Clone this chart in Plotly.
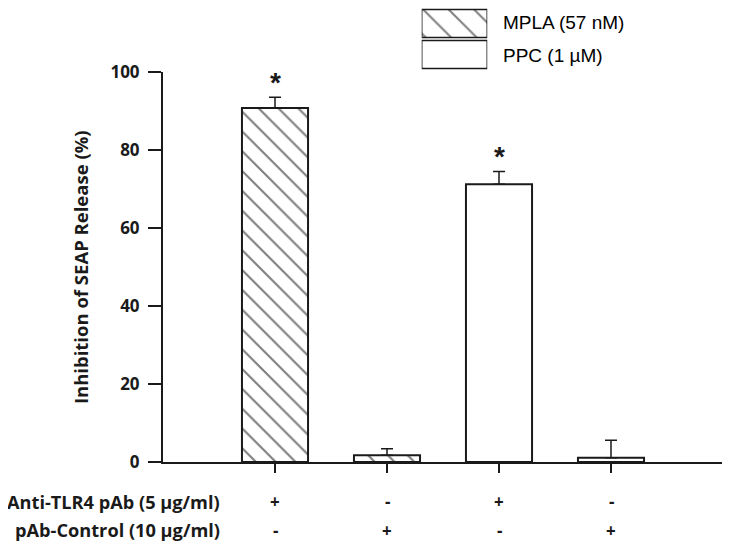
import plotly.graph_objects as go

# data
positions = [1, 2, 3, 4]
treatment = ["MPLA (57 nM)", "MPLA (57 nM)", "PPC (1 µM)", "PPC (1 µM)"]
inhibition = [90.8, 1.7, 71.2, 1.1]
sem = [2.7, 1.7, 3.3, 4.5]
significant = [True, False, True, False]
anti_tlr4 = ["+", "-", "+", "-"]
pab_control = ["-", "+", "-", "+"]
row_labels = ["Anti-TLR4 pAb (5 µg/ml)", "pAb-Control (10 µg/ml)"]
legend_names = ["MPLA (57 nM)", "PPC (1 µM)"]
y_ticks = [0, 20, 40, 60, 80, 100]

INK = "#1a1a1a"
BOLD = dict(family="Open Sans", size=17, color=INK, weight=700)
patterns = {"MPLA (57 nM)": "\\", "PPC (1 µM)": ""}

fig = go.Figure()

for name in legend_names:
    idx = [i for i, t in enumerate(treatment) if t == name]
    fig.add_trace(
        go.Bar(
            x=[positions[i] for i in idx],
            y=[inhibition[i] for i in idx],
            width=0.59,
            name=name,
            marker=dict(
                color="white",
                line=dict(color=INK, width=2),
                pattern=dict(shape=patterns[name], size=14, solidity=0.15,
                             fgcolor="black", bgcolor="white"),
            ),
            error_y=dict(type="data", symmetric=False,
                         array=[sem[i] for i in idx],
                         arrayminus=[0] * len(idx),
                         color=INK, thickness=1.5, width=6),
            showlegend=False,
        )
    )

# legend drawn as a small bar panel, like the original key
fig.add_trace(
    go.Bar(
        y=[1, 0],
        x=[1, 1],
        orientation="h",
        width=0.9,
        marker=dict(
            color="white",
            line=dict(color=INK, width=1.5),
            pattern=dict(shape=["\\", ""], size=18, solidity=0.11,
                         fgcolor="black", bgcolor="white"),
        ),
        xaxis="x2",
        yaxis="y2",
        showlegend=False,
        hoverinfo="skip",
    )
)
for name, ly in zip(legend_names, [0.969, 0.896]):
    fig.add_annotation(x=0.603, y=ly, xref="paper", yref="paper", text=name,
                       showarrow=False, xanchor="left", yanchor="middle",
                       font=dict(family="Liberation Sans", size=19, color="black"))

# significance stars
for p, v, e, s in zip(positions, inhibition, sem, significant):
    if s:
        fig.add_annotation(x=p, y=v + e, text="*", showarrow=False, yanchor="bottom",
                           yshift=-3, font=dict(family="Liberation Sans", size=28,
                                               color=INK, weight=700))

# treatment table under the axis
for row, (label, signs) in enumerate(zip(row_labels, [anti_tlr4, pab_control])):
    ypos = -0.088 - row * 0.062
    fig.add_annotation(x=0.105, xref="paper", y=ypos, yref="paper",
                       text=label, showarrow=False, xanchor="right", yanchor="middle",
                       font=dict(BOLD, size=18.2))
    for p, sgn in zip(positions, signs):
        fig.add_annotation(x=p, xref="x", y=ypos, yref="paper", text=sgn,
                           showarrow=False, yanchor="middle", font=dict(BOLD, size=17))

fig.add_annotation(x=-0.148, xref="paper", y=50, yref="y", xanchor="center",
                   yanchor="middle", text="Inhibition of SEAP Release (%)",
                   textangle=-90, showarrow=False, font=dict(BOLD, size=18.5))

fig.update_layout(
    width=722,
    height=540,
    margin=dict(l=155, r=7, t=0, b=86, autoexpand=False),
    plot_bgcolor="white",
    paper_bgcolor="white",
    barmode="overlay",
    xaxis=dict(range=[0, 5], tickvals=[1, 2, 3, 4, 5], showticklabels=False,
               ticks="outside", ticklen=9, tickwidth=2, tickcolor=INK,
               showline=True, linecolor=INK, linewidth=2,
               showgrid=False, zeroline=False),
    yaxis=dict(range=[0, 100], tickvals=y_ticks, domain=[0, 0.859],
               ticks="outside", ticklen=13, tickwidth=2, tickcolor=INK,
               ticklabelstandoff=5,
               showline=True, linecolor=INK, linewidth=2,
               showgrid=False, zeroline=False, tickfont=BOLD),
    xaxis2=dict(domain=[0.462, 0.579], range=[0, 1], visible=False, anchor="y2"),
    yaxis2=dict(domain=[0.8634, 1.0], range=[-0.5, 1.5], visible=False, anchor="x2"),
)

fig.write_html("out.html")
